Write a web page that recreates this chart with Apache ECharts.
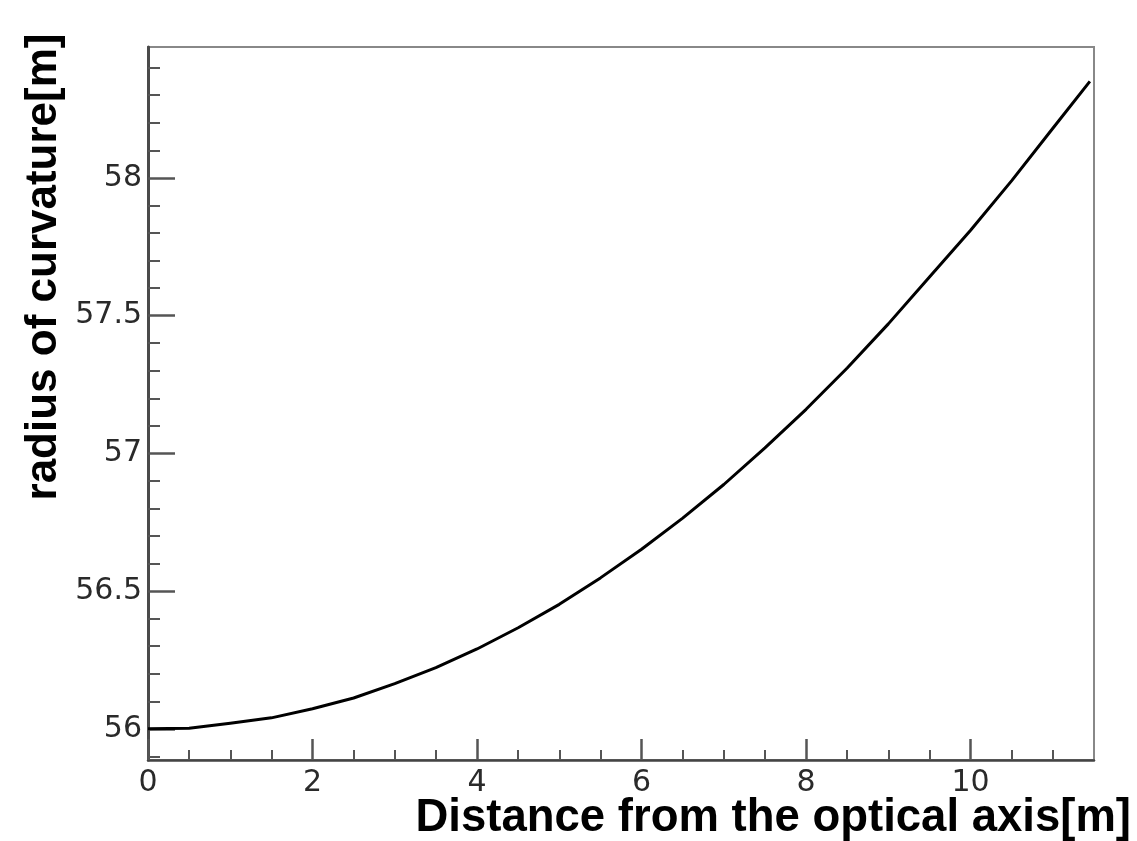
<!DOCTYPE html>
<html>
<head>
<meta charset="utf-8">
<title>radius of curvature</title>
<script src="https://cdn.jsdelivr.net/npm/echarts@6/dist/echarts.min.js"></script>
<style>
  html, body { margin: 0; padding: 0; background: #fff; }
  #chart { width: 1137px; height: 841px; }
</style>
</head>
<body>
<div id="chart"></div>
<script>
// distance from the optical axis [m]
const distance = [0, 0.5, 1, 1.5, 2, 2.5, 3, 3.5, 4, 4.5, 5, 5.5, 6, 6.5, 7, 7.5, 8, 8.5, 9, 9.5, 10, 10.5, 11, 11.45]
// radius of curvature [m]
const radius = [56.000, 56.002, 56.020, 56.040, 56.073, 56.112, 56.164, 56.222, 56.290, 56.367, 56.452, 56.548,
  56.652, 56.765, 56.887, 57.020, 57.160, 57.310, 57.470, 57.640, 57.810, 57.990, 58.180, 58.350]

const xMajor = [0, 2, 4, 6, 8, 10]
const xMinor = [0.5, 1, 1.5, 2.5, 3, 3.5, 4.5, 5, 5.5, 6.5, 7, 7.5, 8.5, 9, 9.5, 10.5, 11]
const yMajor = [56, 56.5, 57, 57.5, 58]
const yMinor = [55.9, 56.1, 56.2, 56.3, 56.4, 56.6, 56.7, 56.8, 56.9, 57.1, 57.2, 57.3, 57.4,
  57.6, 57.7, 57.8, 57.9, 58.1, 58.2, 58.3, 58.4]

const X_MIN = 0, X_MAX = 11.5
const Y_MIN = 55.887, Y_MAX = 58.475

const labelStyle = { fontFamily: 'DejaVu Sans', fontSize: 30, color: '#2a2a2a' }
const titleFont = 'bold 44px "Liberation Sans", Arial, sans-serif'

const chart = echarts.init(document.getElementById('chart'))
chart.setOption({
  animation: false,
  grid: {
    left: 148, right: 43, top: 47, bottom: 81,
    show: true, borderColor: '#888', borderWidth: 2,
  },
  xAxis: [
    {
      type: 'value', min: X_MIN, max: X_MAX,
      axisLine: { show: true, lineStyle: { color: '#444', width: 2.5 } },
      axisTick: { show: true, inside: true, length: 21, customValues: xMajor, lineStyle: { color: '#555', width: 2.5 } },
      axisLabel: { ...labelStyle, margin: 8, customValues: xMajor },
      splitLine: { show: false },
    },
    {
      type: 'value', min: X_MIN, max: X_MAX, position: 'bottom', offset: 0,
      axisLine: { show: false },
      axisTick: { show: true, inside: true, length: 10, customValues: xMinor, lineStyle: { color: '#555', width: 2 } },
      axisLabel: { show: false },
      splitLine: { show: false },
    },
  ],
  yAxis: [
    {
      type: 'value', min: Y_MIN, max: Y_MAX,
      axisLine: { show: true, lineStyle: { color: '#4a4a4a', width: 3 } },
      axisTick: { show: true, inside: true, length: 27, customValues: yMajor, lineStyle: { color: '#555', width: 2.5 } },
      axisLabel: { ...labelStyle, margin: 6, customValues: yMajor },
      splitLine: { show: false },
    },
    {
      type: 'value', min: Y_MIN, max: Y_MAX, position: 'left', offset: 0,
      axisLine: { show: false },
      axisTick: { show: true, inside: true, length: 12, customValues: yMinor, lineStyle: { color: '#555', width: 2 } },
      axisLabel: { show: false },
      splitLine: { show: false },
    },
  ],
  graphic: [
    {
      type: 'text', x: 44, y: 267, rotation: Math.PI / 2,
      style: { text: 'radius of curvature[m]', font: titleFont, fill: '#000', textAlign: 'center', textVerticalAlign: 'middle' },
    },
    {
      type: 'text', x: 1131, y: 818,
      style: { text: 'Distance from the optical axis[m]', font: 'bold 45.5px "Liberation Sans", Arial, sans-serif', fill: '#000', textAlign: 'right', textVerticalAlign: 'middle' },
    },
  ],
  series: [{
    type: 'line',
    xAxisIndex: 0, yAxisIndex: 0,
    data: distance.map((d, i) => [d, radius[i]]),
    smooth: false,
    symbol: 'none',
    lineStyle: { color: '#000', width: 3, join: 'round' },
  }],
})
</script>
</body>
</html>
